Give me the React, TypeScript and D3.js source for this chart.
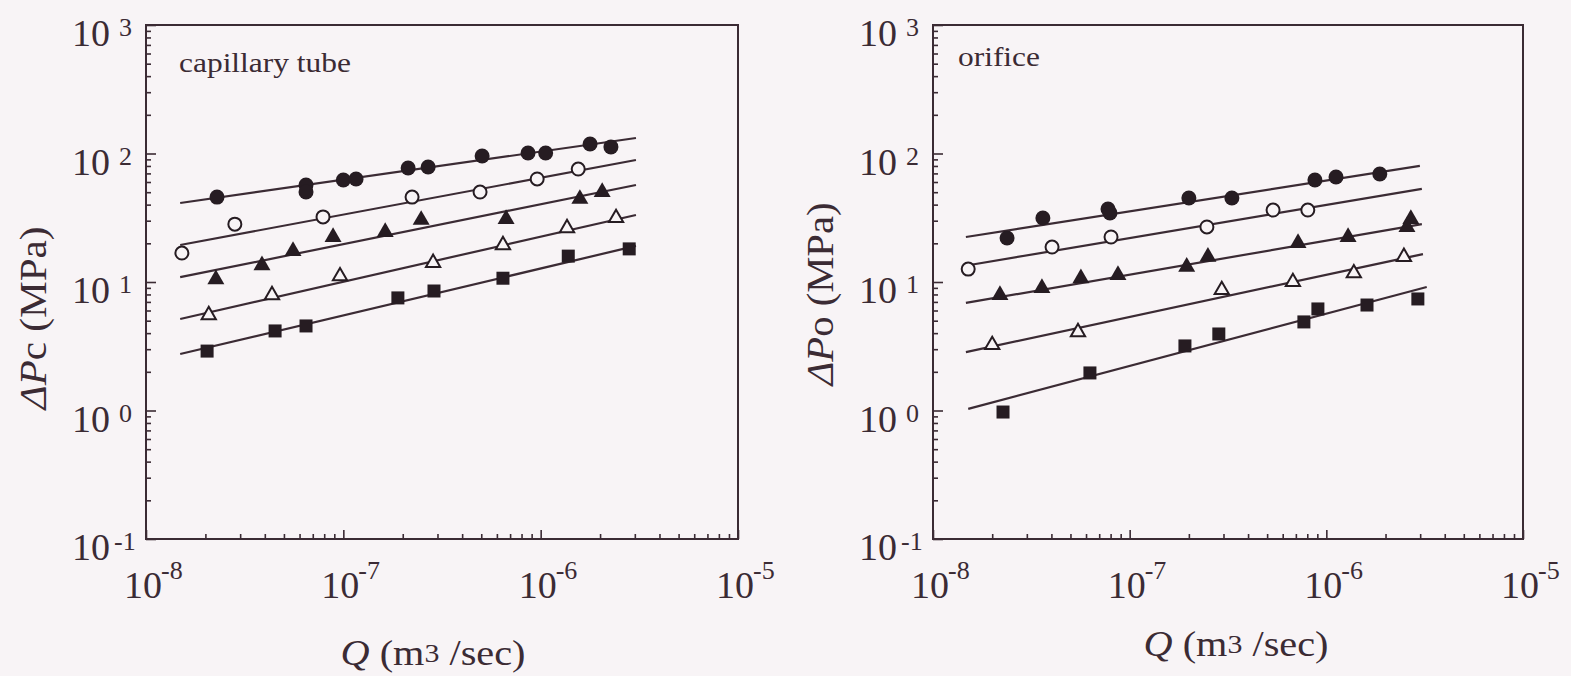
import React, { useRef, useEffect } from 'react';
import * as d3 from 'd3';

const W = 1571;
const H = 676;
const INK = '#3b2b34';
const MARK = '#261c22';
const BG = '#f8f4f6';

// capillary tube panel (Q in m3/sec, dP in MPa)
const capFilledCircleQ = [2.29e-8, 6.47e-8, 6.47e-8, 1.0e-7, 1.16e-7, 2.13e-7, 2.69e-7, 5.05e-7, 8.63e-7, 1.06e-6, 1.78e-6, 2.27e-6];
const capFilledCircleP = [45.8, 56.9, 50.1, 62.2, 63.4, 77.1, 78.5, 95.7, 100.9, 100.9, 118.6, 112.5];
const capOpenCircleQ = [1.52e-8, 2.82e-8, 7.89e-8, 2.23e-7, 4.93e-7, 9.6e-7, 1.55e-6];
const capOpenCircleP = [16.8, 28.2, 32.1, 45.8, 50.1, 63.4, 75.7];
const capFilledTriQ = [2.26e-8, 3.87e-8, 5.56e-8, 8.87e-8, 1.63e-7, 2.48e-7, 6.68e-7, 1.58e-6, 2.05e-6];
const capFilledTriP = [10.5, 13.5, 17.4, 22.4, 24.5, 30.4, 30.9, 44.3, 50.1];
const capOpenTriQ = [2.08e-8, 4.35e-8, 9.62e-8, 2.85e-7, 6.44e-7, 1.36e-6, 2.41e-6];
const capOpenTriP = [5.53, 7.92, 11.1, 14.1, 19.4, 26.3, 31.5];
const capSquareQ = [2.04e-8, 4.51e-8, 6.47e-8, 1.89e-7, 2.88e-7, 6.44e-7, 1.38e-6, 2.81e-6];
const capSquareP = [2.9, 4.16, 4.55, 7.52, 8.51, 10.7, 15.9, 18.1];

// fitted lines, capillary (end points)
const capFitQ = [1.49e-8, 3.04e-6];
const capFitFilledCircle = [41.2, 132];
const capFitOpenCircle = [19.4, 89.0];
const capFitFilledTri = [10.9, 56.9];
const capFitOpenTri = [5.15, 33.2];
const capFitSquare = [2.75, 19.1];

// orifice panel
const orfFilledCircleQ = [2.38e-8, 3.62e-8, 7.76e-8, 7.94e-8, 2.0e-7, 3.31e-7, 8.75e-7, 1.12e-6, 1.87e-6];
const orfFilledCircleP = [22.0, 31.5, 37.0, 34.4, 45.1, 45.1, 62.2, 65.6, 69.2];
const orfOpenCircleQ = [1.51e-8, 4.03e-8, 8.04e-8, 2.47e-7, 5.36e-7, 8.05e-7];
const orfOpenCircleP = [12.6, 18.7, 22.4, 26.8, 36.3, 36.3];
const orfFilledTriQ = [2.19e-8, 3.58e-8, 5.65e-8, 8.72e-8, 1.95e-7, 2.5e-7, 7.18e-7, 1.29e-6, 2.57e-6, 2.69e-6];
const orfFilledTriP = [7.92, 8.98, 10.7, 11.3, 13.1, 15.7, 20.1, 22.4, 26.8, 30.9];
const orfOpenTriQ = [2.0e-8, 5.46e-8, 2.94e-7, 6.76e-7, 1.38e-6, 2.48e-6];
const orfOpenTriP = [3.24, 4.08, 8.67, 10.0, 11.7, 15.7];
const orfSquareQ = [2.27e-8, 6.28e-8, 1.91e-7, 2.84e-7, 7.69e-7, 9.06e-7, 1.61e-6, 2.92e-6];
const orfSquareP = [0.973, 1.96, 3.18, 3.94, 4.89, 6.17, 6.62, 7.38];

const orfFitFilledCircleQ = [1.47e-8, 2.99e-6];
const orfFitFilledCircle = [22.4, 80.0];
const orfFitOpenCircleQ = [1.51e-8, 3.06e-6];
const orfFitOpenCircle = [13.5, 53.0];
const orfFitFilledTriQ = [1.47e-8, 3.06e-6];
const orfFitFilledTri = [6.87, 28.2];
const orfFitOpenTriQ = [1.47e-8, 3.1e-6];
const orfFitOpenTri = [2.85, 16.5];
const orfFitSquareQ = [1.51e-8, 3.24e-6];
const orfFitSquare = [1.03, 9.14];

const xTickExp = ['-8', '-7', '-6', '-5'];
const yTickExp = ['-1', '0', '1', '2', '3'];

const zip = (q, p) => q.map((v, i) => ({ q: v, p: p[i] }));

const panels = [
  {
    left: 146, right: 738, top: 25, bottom: 539,
    note: 'capillary tube', noteX: 179, noteY: 72, noteLen: 172,
    sub: 'c', yTitleX: 46, yTitleY: 318, xTitleX: 433, xTitleY: 665,
    series: [
      { shape: 'filledCircle', pts: zip(capFilledCircleQ, capFilledCircleP), fit: zip(capFitQ, capFitFilledCircle) },
      { shape: 'openCircle', pts: zip(capOpenCircleQ, capOpenCircleP), fit: zip(capFitQ, capFitOpenCircle) },
      { shape: 'filledTri', pts: zip(capFilledTriQ, capFilledTriP), fit: zip(capFitQ, capFitFilledTri) },
      { shape: 'openTri', pts: zip(capOpenTriQ, capOpenTriP), fit: zip(capFitQ, capFitOpenTri) },
      { shape: 'square', pts: zip(capSquareQ, capSquareP), fit: zip(capFitQ, capFitSquare) },
    ],
  },
  {
    left: 933, right: 1523, top: 25, bottom: 539,
    note: 'orifice', noteX: 958, noteY: 66, noteLen: 82,
    sub: 'o', yTitleX: 833, yTitleY: 294, xTitleX: 1236, xTitleY: 656,
    series: [
      { shape: 'filledCircle', pts: zip(orfFilledCircleQ, orfFilledCircleP), fit: zip(orfFitFilledCircleQ, orfFitFilledCircle) },
      { shape: 'openCircle', pts: zip(orfOpenCircleQ, orfOpenCircleP), fit: zip(orfFitOpenCircleQ, orfFitOpenCircle) },
      { shape: 'filledTri', pts: zip(orfFilledTriQ, orfFilledTriP), fit: zip(orfFitFilledTriQ, orfFitFilledTri) },
      { shape: 'openTri', pts: zip(orfOpenTriQ, orfOpenTriP), fit: zip(orfFitOpenTriQ, orfFitOpenTri) },
      { shape: 'square', pts: zip(orfSquareQ, orfSquareP), fit: zip(orfFitSquareQ, orfFitSquare) },
    ],
  },
];

function logTicks(lo, hi) {
  const major = [], minor = [];
  for (let e = lo; e <= hi; e++) {
    major.push(Math.pow(10, e));
    if (e < hi) for (let k = 2; k <= 9; k++) minor.push(k * Math.pow(10, e));
  }
  return { major, minor };
}

export default function App() {
  const svgRef = useRef(null);

  useEffect(() => {
    const svg = d3.select(svgRef.current);
    svg.selectAll('*').remove();
    svg.append('rect').attr('width', W).attr('height', H).attr('fill', BG);

    const font = '"Liberation Serif", "Times New Roman", serif';
    const xt = logTicks(-8, -5);
    const yt = logTicks(-1, 3);

    panels.forEach((pn) => {
      const x = d3.scaleLog().domain([1e-8, 1e-5]).range([pn.left, pn.right]);
      const y = d3.scaleLog().domain([0.1, 1000]).range([pn.bottom, pn.top]);
      const g = svg.append('g');

      // ticks (inward)
      const tickAxis = (axis, tr, vals, size) => {
        const a = g.append('g').attr('transform', tr)
          .call(axis.tickValues(vals).tickSize(-size).tickFormat(() => ''));
        a.select('.domain').remove();
        a.selectAll('line').attr('stroke', INK).attr('stroke-width', 1.6);
      };
      tickAxis(d3.axisBottom(x), `translate(0,${pn.bottom})`, xt.minor, 5);
      tickAxis(d3.axisBottom(x), `translate(0,${pn.bottom})`, xt.major, 9);
      tickAxis(d3.axisLeft(y), `translate(${pn.left},0)`, yt.minor, 5);
      tickAxis(d3.axisLeft(y), `translate(${pn.left},0)`, yt.major, 10);

      // frame
      g.append('rect')
        .attr('x', pn.left).attr('y', pn.top)
        .attr('width', pn.right - pn.left).attr('height', pn.bottom - pn.top)
        .attr('fill', 'none').attr('stroke', INK).attr('stroke-width', 2);

      // x tick labels
      xt.major.forEach((v, i) => {
        g.append('text').attr('font-family', font).attr('fill', INK)
          .attr('x', x(v) - 3).attr('y', 598).attr('font-size', 38)
          .attr('text-anchor', 'middle').text('10');
        g.append('text').attr('font-family', font).attr('fill', INK)
          .attr('x', x(v) + 15).attr('y', 579).attr('font-size', 26).text(xTickExp[i]);
      });

      // y tick labels
      yt.major.forEach((v, i) => {
        const yy = y(v);
        g.append('text').attr('font-family', font).attr('fill', INK)
          .attr('x', pn.left - 36).attr('y', yy + 21).attr('font-size', 38)
          .attr('text-anchor', 'end').text('10');
        g.append('text').attr('font-family', font).attr('fill', INK)
          .attr('x', pn.left - (yTickExp[i].length > 1 ? 32 : 27)).attr('y', yy + 11)
          .attr('font-size', 26).text(yTickExp[i]);
      });

      // note
      g.append('text').attr('font-family', font).attr('fill', INK)
        .attr('x', pn.noteX).attr('y', pn.noteY).attr('font-size', 28)
        .attr('textLength', pn.noteLen).attr('lengthAdjust', 'spacingAndGlyphs')
        .text(pn.note);

      // y title
      const ytl = g.append('text').attr('font-family', font).attr('fill', INK)
        .attr('font-size', 38).attr('text-anchor', 'middle')
        .attr('textLength', 183).attr('lengthAdjust', 'spacingAndGlyphs')
        .attr('transform', `translate(${pn.yTitleX},${pn.yTitleY}) rotate(-90)`);
      ytl.append('tspan').attr('font-style', 'italic').text('ΔP');
      ytl.append('tspan').text(`${pn.sub} (MPa)`);

      // x title
      const xtl = g.append('text').attr('font-family', font).attr('fill', INK)
        .attr('font-size', 35).attr('text-anchor', 'middle')
        .attr('x', pn.xTitleX).attr('y', pn.xTitleY)
        .attr('textLength', 185).attr('lengthAdjust', 'spacingAndGlyphs');
      xtl.append('tspan').attr('font-style', 'italic').text('Q');
      xtl.append('tspan').text(' (m');
      xtl.append('tspan').attr('font-size', 26).attr('dy', -3).text('3');
      xtl.append('tspan').attr('dy', 3).text(' /sec)');

      // fit lines
      const line = d3.line().x((d) => x(d.q)).y((d) => y(d.p));
      pn.series.forEach((s) => {
        g.append('path').attr('d', line(s.fit)).attr('fill', 'none')
          .attr('stroke', INK).attr('stroke-width', 2.2);
      });

      // markers
      const triFilled = d3.symbol().type(d3.symbolTriangle).size(125);
      const triOpen = d3.symbol().type(d3.symbolTriangle).size(88);
      pn.series.forEach((s) => {
        const m = g.append('g');
        s.pts.forEach((d) => {
          const cx = x(d.q), cy = y(d.p);
          if (s.shape === 'filledCircle') {
            m.append('circle').attr('cx', cx).attr('cy', cy).attr('r', 7.5).attr('fill', MARK);
          } else if (s.shape === 'openCircle') {
            m.append('circle').attr('cx', cx).attr('cy', cy).attr('r', 6.5)
              .attr('fill', BG).attr('stroke', MARK).attr('stroke-width', 2);
          } else if (s.shape === 'filledTri') {
            m.append('path').attr('d', triFilled()).attr('transform', `translate(${cx},${cy})`)
              .attr('fill', MARK);
          } else if (s.shape === 'openTri') {
            m.append('path').attr('d', triOpen()).attr('transform', `translate(${cx},${cy})`)
              .attr('fill', BG).attr('stroke', MARK).attr('stroke-width', 2);
          } else {
            m.append('rect').attr('x', cx - 6.5).attr('y', cy - 6.5)
              .attr('width', 13).attr('height', 13).attr('fill', MARK);
          }
        });
      });
    });
  }, []);

  return (
    <svg ref={svgRef} width={W} height={H}
      style={{ position: 'absolute', left: 0, top: 0, display: 'block' }} />
  );
}
